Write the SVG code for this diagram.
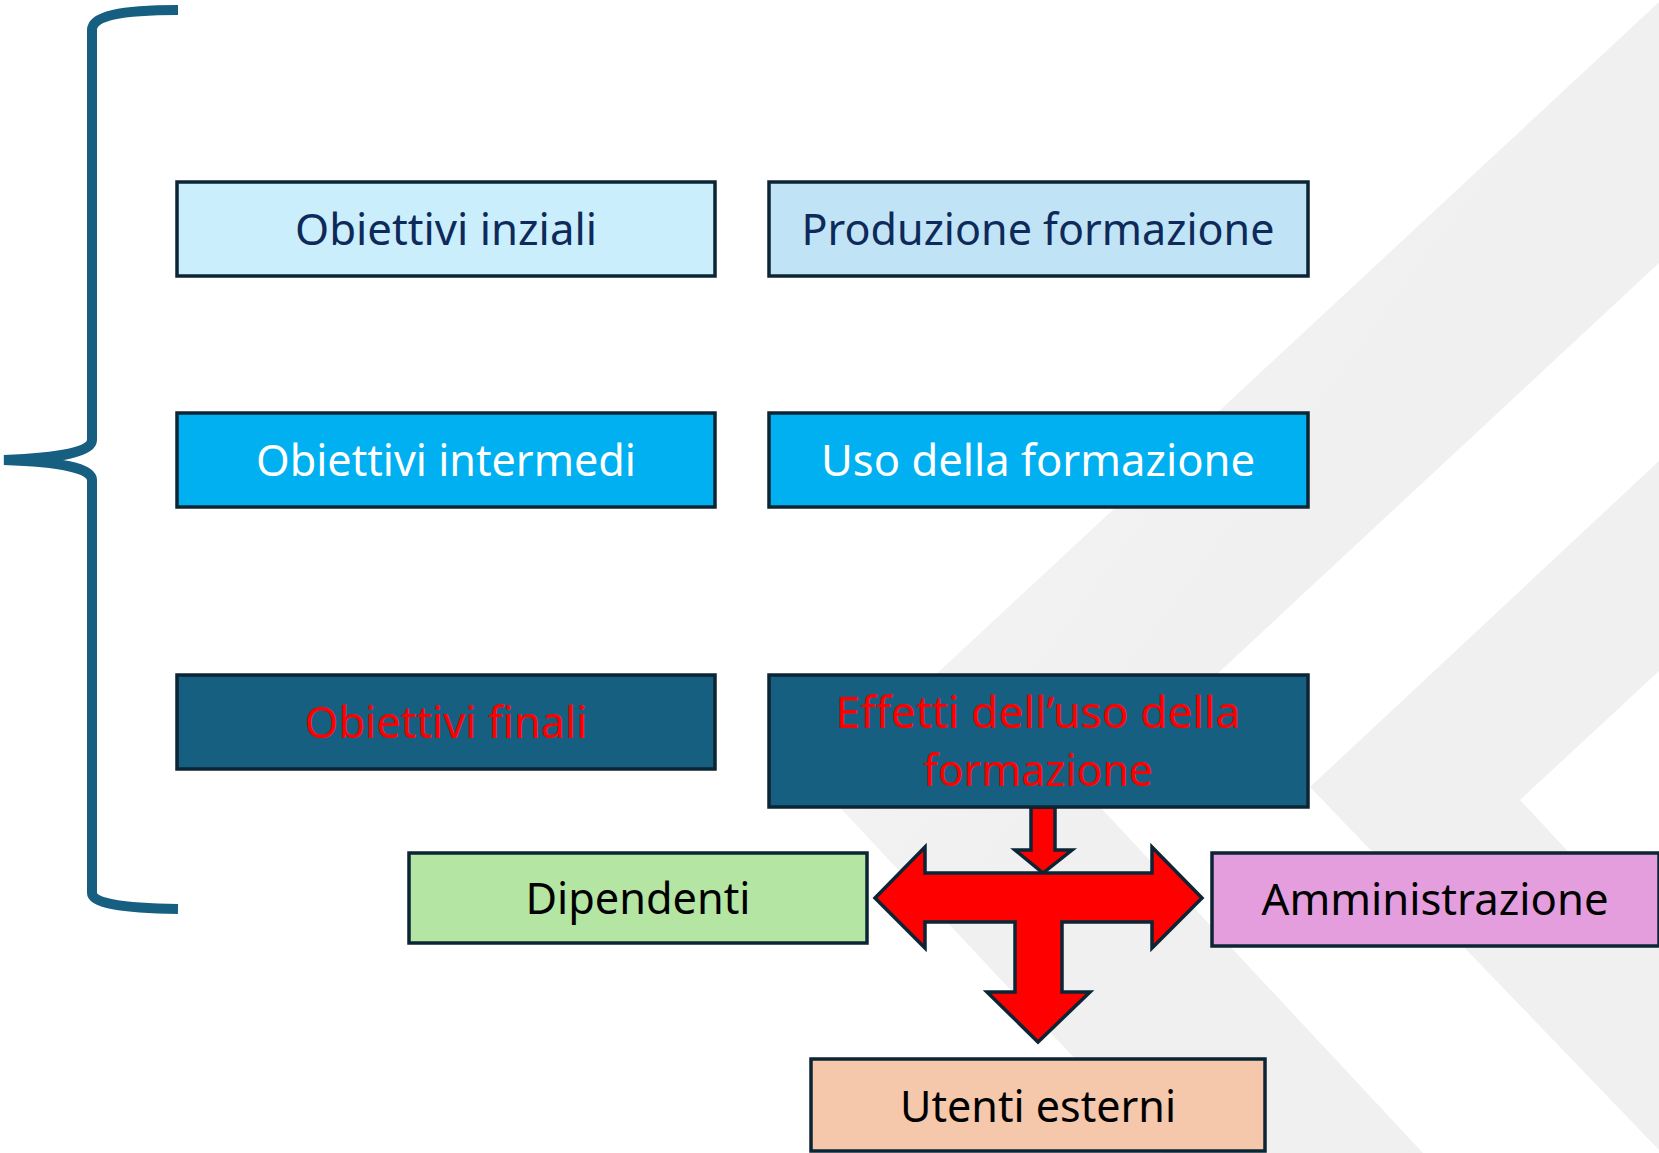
<svg xmlns="http://www.w3.org/2000/svg" width="1659" height="1153" viewBox="0 0 1659 1153">
  <defs>
    <linearGradient id="bandfade" x1="0" y1="0" x2="1" y2="1">
      <stop offset="0" stop-color="#f8f8f8"/>
      <stop offset="0.5" stop-color="#f0f0f0"/>
      <stop offset="1" stop-color="#f0f0f0"/>
    </linearGradient>
  </defs>
  <style>
    .box { stroke: #0b2535; stroke-width: 3.5; }
    .t { font-family: "Noto Sans", "Liberation Sans", sans-serif; font-size: 44px; text-anchor: middle; }
    .navy { fill: #0e2a5a; }
    .white { fill: #ffffff; }
    .red { fill: #ff0000; }
    .black { fill: #000000; }
    .arrow { fill: #ff0000; stroke: #0b2535; stroke-width: 3.5; stroke-linejoin: miter; }
  </style>

  <!-- background -->
  <rect x="0" y="0" width="1659" height="1153" fill="#ffffff"/>
  <g id="background">
    <polygon points="1659,2 818,784 1163,1153 1423,1153 1088,794 1659,263" fill="url(#bandfade)"/>
    <polygon points="1659,461 1310,787 1659,1150 1659,949 1520,800 1659,671" fill="#f0f0f0"/>
  </g>

  <!-- brace -->
  <g id="brace">
    <path d="M178,10 C120,10 92,16 92,30 L92,440 C92,452 60,458 4,460 C60,462 92,468 92,480 L92,893 C92,903 120,908 178,909" fill="none" stroke="#175f80" stroke-width="10"/>
  </g>

  <!-- connectors -->
  <g id="connectors">
    <polygon class="arrow" points="1031,807 1055,807 1055,850 1072,850 1043,873 1015,850 1031,850"/>
    <polygon class="arrow" points="875,898 925,847 925,873 1152,873 1152,847 1202,898 1152,948 1152,922 1062,922 1062,992 1090,992 1038,1042 987,992 1015,992 1015,922 925,922 925,948"/>
  </g>

  <!-- nodes -->
  <g id="obiettivi-iniziali">
    <rect class="box" x="177" y="182" width="538" height="94" fill="#caeefb"/>
    <text class="t navy" x="446" y="245" textLength="302" lengthAdjust="spacingAndGlyphs">Obiettivi inziali</text>
  </g>
  <g id="produzione-formazione">
    <rect class="box" x="769" y="182" width="539" height="94" fill="#c0e4f5"/>
    <text class="t navy" x="1038" y="245" textLength="473" lengthAdjust="spacingAndGlyphs">Produzione formazione</text>
  </g>
  <g id="obiettivi-intermedi">
    <rect class="box" x="177" y="413" width="538" height="94" fill="#00b0f0"/>
    <text class="t white" x="446" y="476" textLength="380" lengthAdjust="spacingAndGlyphs">Obiettivi intermedi</text>
  </g>
  <g id="uso-formazione">
    <rect class="box" x="769" y="413" width="539" height="94" fill="#00b0f0"/>
    <text class="t white" x="1038" y="476" textLength="434" lengthAdjust="spacingAndGlyphs">Uso della formazione</text>
  </g>
  <g id="obiettivi-finali">
    <rect class="box" x="177" y="675" width="538" height="94" fill="#175f80"/>
    <text class="t red" x="446" y="738" textLength="283" lengthAdjust="spacingAndGlyphs">Obiettivi finali</text>
  </g>
  <g id="effetti">
    <rect class="box" x="769" y="675" width="539" height="132" fill="#175f80"/>
    <text class="t red" x="1038" y="728" textLength="405" lengthAdjust="spacingAndGlyphs">Effetti dell’uso della</text>
    <text class="t red" x="1038" y="786" textLength="230" lengthAdjust="spacingAndGlyphs">formazione</text>
  </g>
  <g id="dipendenti">
    <rect class="box" x="409" y="853" width="458" height="90" fill="#b4e5a2"/>
    <text class="t black" x="638" y="914" textLength="225" lengthAdjust="spacingAndGlyphs">Dipendenti</text>
  </g>
  <g id="amministrazione">
    <rect class="box" x="1212" y="853" width="447" height="93" fill="#e49edd"/>
    <text class="t black" x="1435" y="915" textLength="347" lengthAdjust="spacingAndGlyphs">Amministrazione</text>
  </g>
  <g id="utenti-esterni">
    <rect class="box" x="811" y="1059" width="454" height="92" fill="#f5c7ab"/>
    <text class="t black" x="1038" y="1122" textLength="276" lengthAdjust="spacingAndGlyphs">Utenti esterni</text>
  </g>
</svg>
